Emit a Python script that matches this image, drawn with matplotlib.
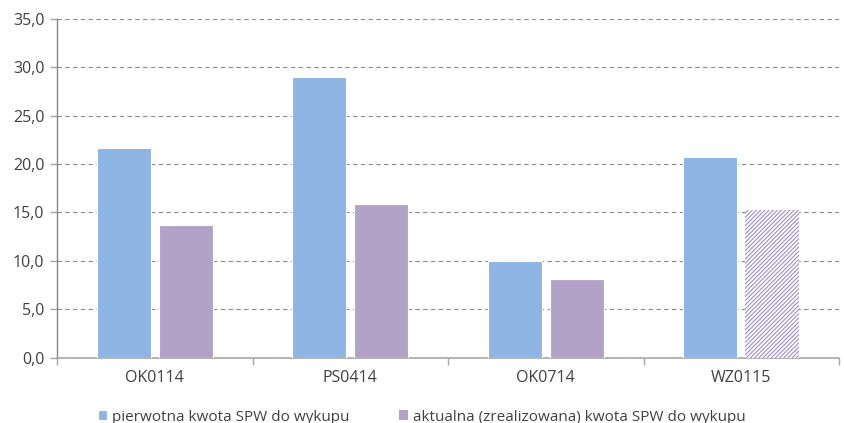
import matplotlib
matplotlib.use("Agg")
import matplotlib.pyplot as plt
import numpy as np
from matplotlib.ticker import FuncFormatter, MultipleLocator, FixedLocator

plt.rcParams['font.family'] = ['Open Sans', 'DejaVu Sans']
plt.rcParams['hatch.linewidth'] = 0.9

categories = ["OK0114", "PS0414", "OK0714", "WZ0115"]
pierwotna = [21.7, 29.0, 10.0, 20.7]
aktualna = [13.7, 15.9, 8.1, 15.3]
# last purple bar is an estimate, drawn hatched
aktualna_hatched = [False, False, False, True]
series_names = ["pierwotna kwota SPW do wykupu",
                "aktualna (zrealizowana) kwota SPW do wykupu"]

blue = "#8EB4E3"
purple = "#B3A2C7"
hatch_color = "#A898CC"
text_color = "#404040"
axis_color = "#A6A6A6"

fig = plt.figure(figsize=(8.44, 4.23), dpi=100)
ax = fig.add_axes([57 / 844, 1 - 357.5 / 423, 782 / 844, 338.5 / 423])

x = np.arange(len(categories))
width = 0.275
offset = 0.158

ax.bar(x - offset, pierwotna, width, color=blue, edgecolor="white",
       linewidth=0.8, zorder=3, label=series_names[0])
for xi, v, h in zip(x, aktualna, aktualna_hatched):
    if h:
        ax.bar(xi + offset, v, width, facecolor="white", edgecolor=hatch_color,
               hatch="////////", linewidth=0, zorder=3)
    else:
        ax.bar(xi + offset, v, width, color=purple, edgecolor="white",
               linewidth=0.8, zorder=3)
# legend proxy for the second series
ax.bar([0], [0], 0, color=purple, label=series_names[1])

ax.set_xlim(-0.5, len(categories) - 0.5)
ax.set_ylim(0, 35)
ax.yaxis.set_major_locator(MultipleLocator(5))
ax.yaxis.set_major_formatter(FuncFormatter(lambda v, p: f"{v:.1f}".replace(".", ",")))
ax.grid(axis="y", color="#8C8C8C", linestyle=(0, (4, 3)), linewidth=0.8, zorder=0)

ax.set_xticks(x)
ax.set_xticklabels(categories)
ax.xaxis.set_minor_locator(FixedLocator(np.arange(-0.5, len(categories), 1.0)))
ax.tick_params(axis="x", which="major", length=0, pad=9, labelsize=11.5, labelcolor=text_color)
ax.tick_params(axis="x", which="minor", length=5, color=axis_color, width=1)
ax.tick_params(axis="y", length=5, color=axis_color, width=1, pad=4,
               labelsize=11.5, labelcolor=text_color)

for s in ["top", "right"]:
    ax.spines[s].set_visible(False)
ax.spines["left"].set_color("#868686")
ax.spines["bottom"].set_color(axis_color)
ax.spines["left"].set_linewidth(1)
ax.spines["bottom"].set_linewidth(1.2)

leg = fig.legend(loc="center left", bbox_to_anchor=(84 / 844, 1 - 417 / 423),
                 ncol=2, frameon=False, handlelength=0.6,
                 handleheight=0.6, handletextpad=0.3, columnspacing=3.3,
                 labelcolor=text_color,
                 prop={'family': ['Open Sans', 'DejaVu Sans'], 'size': 11})

fig.savefig("out.png", dpi=100)
